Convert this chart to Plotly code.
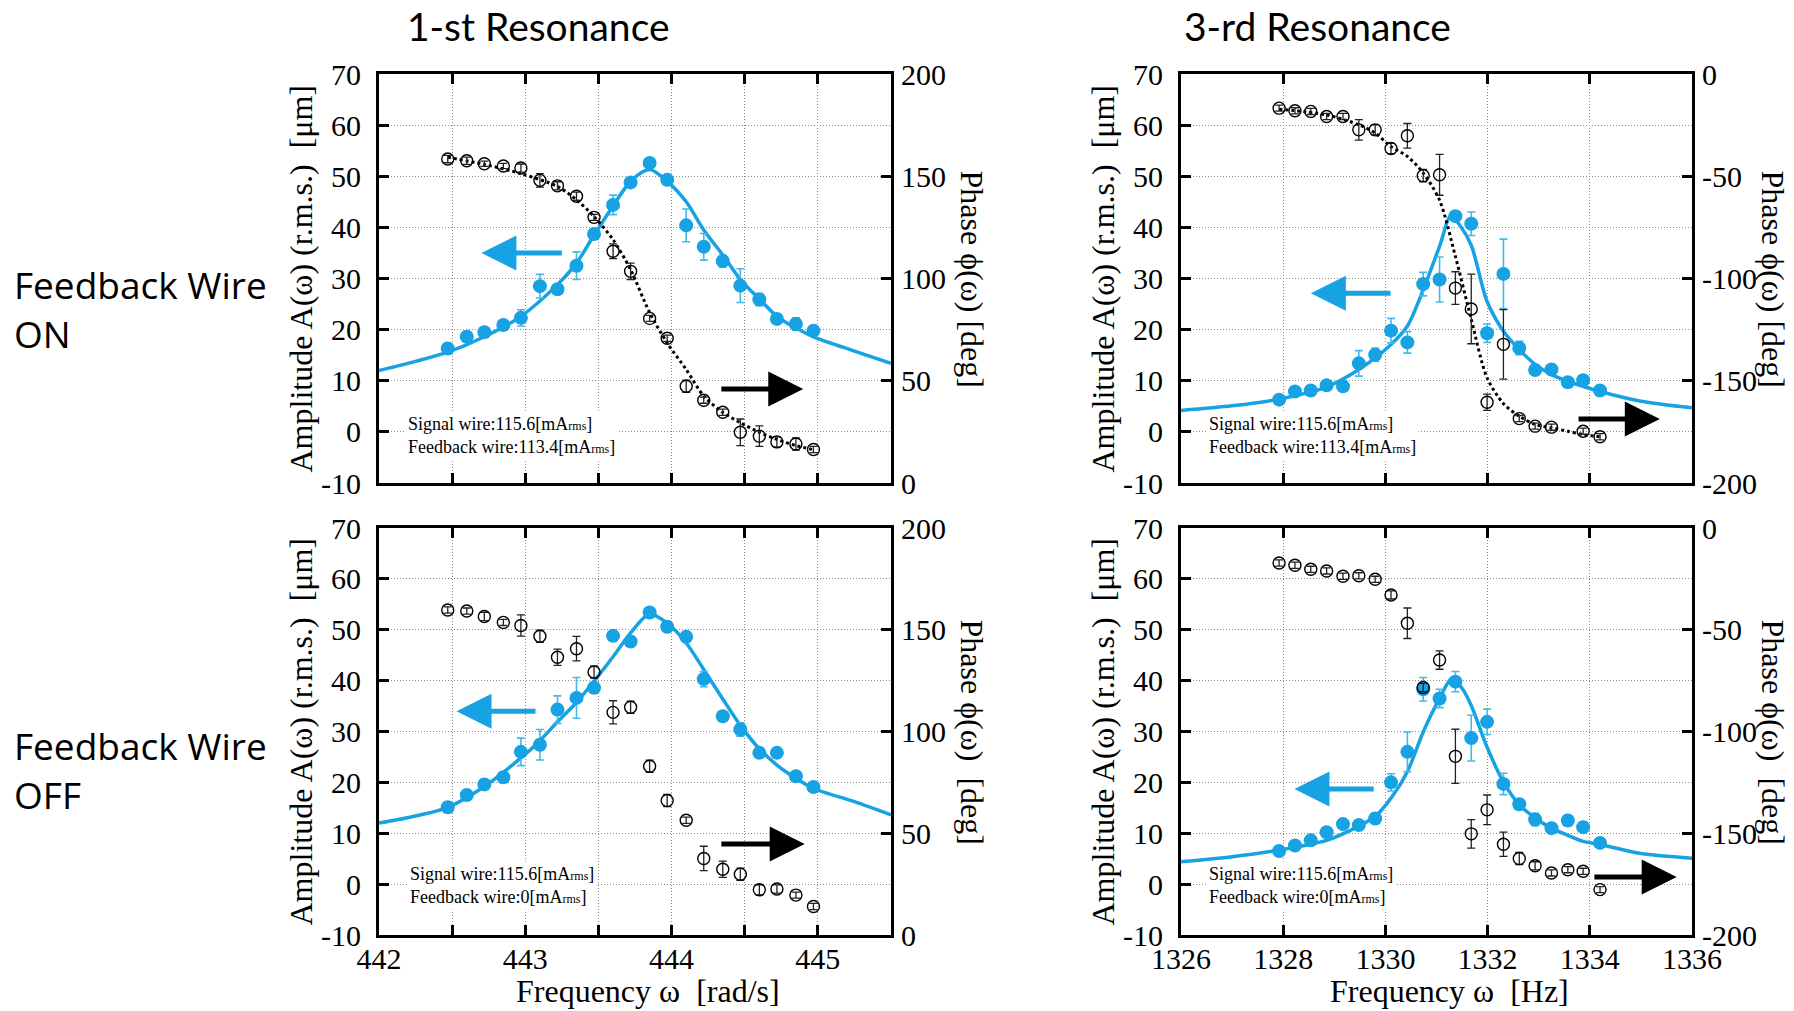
import plotly.graph_objects as go

# ---------------- measured data ----------------
# 1st resonance: excitation frequency [rad/s]
FREQ_1ST = [442.47, 442.60, 442.72, 442.85, 442.97, 443.10, 443.22, 443.35, 443.47, 443.60,
            443.72, 443.85, 443.97, 444.10, 444.22, 444.35, 444.47, 444.60, 444.72, 444.85, 444.97]
# 3rd resonance: excitation frequency [Hz]
FREQ_3RD = [1327.92, 1328.23, 1328.54, 1328.85, 1329.17, 1329.48, 1329.80, 1330.11, 1330.43, 1330.74,
            1331.06, 1331.37, 1331.68, 1331.99, 1332.31, 1332.62, 1332.93, 1333.25, 1333.57, 1333.87, 1334.20]
FREQ_3RD_PHASE_ON = [1327.92, 1328.23, 1328.54, 1328.85, 1329.17, 1329.48, 1329.80, 1330.11, 1330.43, 1330.74,
                     1331.06, 1331.37, 1331.68, 1331.99, 1332.31, 1332.62, 1332.93, 1333.25, 1333.87, 1334.20]

# amplitude [um] and its error
AMP_ON_1ST = [16.3, 18.6, 19.5, 20.9, 22.3, 28.5, 27.9, 32.5, 38.7, 44.4,
              48.8, 52.6, 49.3, 40.4, 36.2, 33.4, 28.6, 25.9, 22.1, 21.1, 19.8]
AMP_ON_1ST_ERR = [1.0, 1.0, 0.8, 0.8, 1.6, 2.3, 0.8, 2.7, 1.0, 1.9,
                  0.8, 0.8, 1.0, 3.2, 2.6, 1.2, 3.3, 1.2, 1.0, 1.2, 0.6]
AMP_OFF_1ST = [15.1, 17.5, 19.6, 21.0, 26.0, 27.4, 34.3, 36.6, 38.6, 48.8,
               47.7, 53.4, 50.6, 48.6, 40.3, 33.0, 30.4, 25.8, 25.8, 21.2, 19.1]
AMP_OFF_1ST_ERR = [1.0, 1.0, 1.0, 1.0, 2.7, 3.0, 2.7, 4.0, 1.0, 1.0,
                   0.8, 0.8, 1.0, 0.8, 1.5, 0.8, 1.3, 0.8, 0.8, 0.8, 0.8]
AMP_ON_3RD = [6.3, 7.9, 8.1, 9.1, 8.9, 13.4, 15.1, 19.8, 17.5, 28.9,
              29.8, 42.2, 40.7, 19.3, 30.9, 16.4, 12.1, 12.2, 9.7, 10.1, 8.1]
AMP_ON_3RD_ERR = [0.6, 0.8, 0.8, 0.8, 0.8, 2.5, 1.3, 2.4, 2.1, 2.3,
                  4.4, 0.8, 2.3, 1.8, 6.8, 1.3, 0.8, 0.8, 0.8, 0.8, 0.8]
AMP_OFF_3RD = [6.5, 7.6, 8.6, 10.2, 11.8, 11.6, 12.9, 20.0, 26.0, 38.3,
               36.5, 39.8, 28.7, 31.9, 19.7, 15.7, 12.7, 11.0, 12.5, 11.2, 8.1]
AMP_OFF_3RD_ERR = [0.6, 0.6, 0.8, 0.8, 0.8, 0.8, 1.0, 1.7, 3.9, 2.3,
                   1.8, 2.0, 4.5, 2.5, 2.1, 1.0, 1.2, 0.8, 1.0, 0.8, 0.6]

# phase [deg] and its error
PHASE_ON_1ST = [158.4, 157.6, 156.1, 155.0, 154.0, 148.0, 145.3, 140.2, 129.9, 113.3,
                103.5, 80.5, 70.8, 47.3, 40.5, 34.6, 24.8, 22.9, 20.1, 19.1, 16.4]
PHASE_ON_1ST_ERR = [1.8, 1.8, 1.3, 1.3, 2.0, 3.3, 2.0, 2.0, 1.5, 3.6,
                    4.0, 1.5, 1.5, 3.0, 1.5, 1.5, 6.5, 5.0, 2.5, 3.0, 1.5]
PHASE_OFF_1ST = [159.7, 159.2, 156.5, 153.6, 152.1, 146.8, 136.5, 140.7, 129.2, 109.4,
                 111.9, 82.9, 66.1, 56.4, 37.6, 32.3, 29.9, 22.2, 22.6, 19.6, 14.0]
PHASE_OFF_1ST_ERR = [1.5, 1.5, 2.0, 1.5, 5.2, 3.0, 4.0, 6.0, 3.0, 5.7,
                     3.0, 3.0, 3.0, 1.5, 6.0, 4.0, 3.0, 2.5, 2.0, 1.5, 1.5]
PHASE_ON_3RD = [-16.7, -18.0, -18.3, -20.8, -20.8, -27.3, -27.3, -36.4, -30.2, -49.7,
                -49.3, -104.7, -114.9, -160.5, -132.2, -168.5, -172.2, -172.7, -174.7, -177.4]
PHASE_ON_3RD_ERR = [1.5, 1.5, 1.5, 1.5, 1.5, 5.0, 2.5, 2.5, 6.0, 3.0,
                    10.0, 8.0, 17.0, 4.0, 17.0, 1.5, 1.5, 1.5, 1.5, 1.5]
PHASE_OFF_3RD = [-17.2, -18.3, -20.3, -21.1, -23.7, -23.5, -25.2, -32.9, -46.8, -78.4,
                 -64.9, -112.2, -150.3, -138.5, -155.4, -162.4, -166.0, -169.5, -167.9, -168.7, -177.7]
PHASE_OFF_3RD_ERR = [1.5, 1.5, 1.5, 1.5, 1.5, 1.5, 1.5, 2.0, 7.5, 2.0,
                     4.5, 13.3, 7.0, 7.3, 6.0, 3.0, 2.0, 1.5, 1.5, 1.5, 1.5]

# ---------------- fitted curves ----------------
FIT_AMP_ON_1ST_F = [442.0, 442.25, 442.47, 442.72, 442.97, 443.22, 443.35, 443.47, 443.60, 443.72,
                    443.85, 443.97, 444.10, 444.22, 444.35, 444.47, 444.60, 444.72, 444.85, 444.97, 445.25, 445.5]
FIT_AMP_ON_1ST = [12.0, 13.8, 15.6, 18.6, 22.6, 28.8, 33.0, 38.5, 44.2, 49.0,
                  51.3, 49.0, 45.0, 39.5, 34.6, 29.8, 26.0, 22.6, 20.3, 18.6, 15.8, 13.4]
FIT_PHASE_ON_1ST_F = [442.47, 442.72, 442.97, 443.22, 443.35, 443.47, 443.60, 443.72, 443.85,
                      443.97, 444.10, 444.22, 444.35, 444.47, 444.60, 444.72, 444.85, 444.97]
FIT_PHASE_ON_1ST = [159.3, 155.8, 151.3, 145.0, 138.5, 130.3, 119.0, 104.3, 83.3,
                    68.5, 55.5, 42.5, 34.5, 29.5, 24.8, 21.3, 18.3, 16.3]
FIT_AMP_OFF_1ST_F = [442.0, 442.25, 442.47, 442.72, 442.97, 443.10, 443.22, 443.35, 443.47, 443.60, 443.72,
                     443.85, 443.97, 444.10, 444.22, 444.35, 444.47, 444.60, 444.72, 444.85, 444.97, 445.25, 445.5]
FIT_AMP_OFF_1ST = [12.0, 13.4, 15.1, 19.2, 24.8, 28.2, 31.9, 35.7, 39.9, 44.7, 49.4,
                   53.1, 51.3, 47.4, 42.2, 36.4, 31.2, 26.6, 23.4, 20.8, 18.8, 16.2, 13.6]
FIT_AMP_ON_3RD_F = [1326.0, 1327.0, 1327.92, 1328.85, 1329.48, 1330.11, 1330.43, 1330.74, 1331.06, 1331.28,
                    1331.45, 1331.68, 1331.99, 1332.31, 1332.62, 1332.93, 1333.25, 1333.57, 1333.87, 1334.20,
                    1335.0, 1336.0]
FIT_AMP_ON_3RD = [4.2, 5.1, 6.4, 8.8, 12.2, 17.1, 20.7, 27.8, 36.3, 42.3,
                  40.5, 36.5, 25.5, 19.7, 16.1, 13.2, 11.2, 9.9, 8.9, 7.9,
                  6.0, 4.7]
FIT_PHASE_ON_3RD_F = [1327.92, 1328.85, 1329.48, 1329.80, 1330.11, 1330.43, 1330.74, 1331.06, 1331.37,
                      1331.68, 1331.99, 1332.31, 1332.62, 1332.93, 1333.25, 1333.57, 1333.87, 1334.20]
FIT_PHASE_ON_3RD = [-17.2, -20.0, -24.8, -28.9, -35.5, -40.3, -48.4, -61.7, -89.2,
                    -120.0, -148.6, -161.2, -167.3, -171.4, -173.0, -174.7, -176.3, -177.4]
FIT_AMP_OFF_3RD_F = [1326.0, 1327.0, 1327.92, 1328.85, 1329.48, 1329.80, 1330.11, 1330.43, 1330.74, 1331.06,
                     1331.30, 1331.50, 1331.68, 1331.99, 1332.31, 1332.62, 1332.93, 1333.25, 1333.57, 1333.87,
                     1334.20, 1335.0, 1336.0]
FIT_AMP_OFF_3RD = [4.4, 5.4, 6.7, 8.6, 11.4, 13.3, 16.9, 22.1, 29.9, 36.5,
                   40.4, 38.5, 35.1, 26.9, 20.1, 15.6, 13.0, 11.0, 9.6, 8.4,
                   7.8, 6.0, 5.1]

# ---------------- text ----------------
COL_TITLES = ["1-st Resonance", "3-rd Resonance"]
ROW_TITLES = [("Feedback Wire", "ON"), ("Feedback Wire", "OFF")]
AMP_TITLE = "Amplitude A(ω) (r.m.s.)\u00a0\u00a0[μm]"
PHASE_TITLES = ["Phase ϕ(ω) [deg]", "Phase ϕ(ω)\u00a0\u00a0[deg]"]
X_TITLES = ["Frequency ω\u00a0\u00a0[rad/s]", "Frequency ω\u00a0\u00a0[Hz]"]
RMS = '<span style="font-size:12px">rms</span>'
NOTE_ON = f"Signal wire:115.6[mA{RMS}]<br>Feedback wire:113.4[mA{RMS}]"
NOTE_OFF = f"Signal wire:115.6[mA{RMS}]<br>Feedback wire:0[mA{RMS}]"

TICKS_1ST = [442, 442.5, 443, 443.5, 444, 444.5, 445]
TICKTEXT_1ST = ["442", "", "443", "", "444", "", "445"]
TICKS_3RD = [1326, 1328, 1330, 1332, 1334, 1336]
TICKTEXT_3RD = ["1326", "1328", "1330", "1332", "1334", "1336"]
AMP_TICKS = [-10, 0, 10, 20, 30, 40, 50, 60, 70]
AMP_TICKTEXT = ["-10", "0", "10", "20", "30", "40", "50", "60", "70"]
PHASE_TICKS_1ST = [0, 50, 100, 150, 200]
PHASE_TICKTEXT_1ST = ["0", "50", "100", "150", "200"]
PHASE_TICKS_3RD = [-200, -150, -100, -50, 0]
PHASE_TICKTEXT_3RD = ["-200", "-150", "-100", "-50", "0"]

BLUE = "#16A2E3"
BLUE_ERR = "#45B8EC"
SERIF = "Liberation Serif, Times New Roman, serif"
W, H = 1794, 1011

fig = go.Figure()

# pixel frames of the four panels: (left, right, top, bottom)
FRAMES = {
    "tl": (379, 891, 74, 483),
    "tr": (1181, 1692, 74, 483),
    "bl": (379, 891, 528, 935),
    "br": (1181, 1692, 528, 935),
}

panels = [
    dict(key="tl", x="x", y="y", y2="y2", col=0, row=0, f=FREQ_1ST, a=AMP_ON_1ST, ae=AMP_ON_1ST_ERR,
         pf=FREQ_1ST, p=PHASE_ON_1ST, pe=PHASE_ON_1ST_ERR, fa=(FIT_AMP_ON_1ST_F, FIT_AMP_ON_1ST),
         fp=(FIT_PHASE_ON_1ST_F, FIT_PHASE_ON_1ST), note=NOTE_ON, note_xy=(442.18, -0.7),
         arrows=[(442.70, 35.0, 443.26, 35.0, BLUE), (444.90, 8.4, 444.33, 8.4, "black")]),
    dict(key="tr", x="x2", y="y3", y2="y4", col=1, row=0, f=FREQ_3RD, a=AMP_ON_3RD, ae=AMP_ON_3RD_ERR,
         pf=FREQ_3RD_PHASE_ON, p=PHASE_ON_3RD, pe=PHASE_ON_3RD_ERR, fa=(FIT_AMP_ON_3RD_F, FIT_AMP_ON_3RD),
         fp=(FIT_PHASE_ON_3RD_F, FIT_PHASE_ON_3RD), note=NOTE_ON, note_xy=(1326.49, -0.7),
         arrows=[(1328.54, 27.1, 1330.13, 27.1, BLUE), (1335.37, 2.5, 1333.75, 2.5, "black")]),
    dict(key="bl", x="x3", y="y5", y2="y6", col=0, row=1, f=FREQ_1ST, a=AMP_OFF_1ST, ae=AMP_OFF_1ST_ERR,
         pf=FREQ_1ST, p=PHASE_OFF_1ST, pe=PHASE_OFF_1ST_ERR, fa=(FIT_AMP_OFF_1ST_F, FIT_AMP_OFF_1ST),
         fp=None, note=NOTE_OFF, note_xy=(442.19, -0.3),
         arrows=[(442.53, 34.0, 443.08, 34.0, BLUE), (444.91, 7.9, 444.33, 7.9, "black")]),
    dict(key="br", x="x4", y="y7", y2="y8", col=1, row=1, f=FREQ_3RD, a=AMP_OFF_3RD, ae=AMP_OFF_3RD_ERR,
         pf=FREQ_3RD, p=PHASE_OFF_3RD, pe=PHASE_OFF_3RD_ERR, fa=(FIT_AMP_OFF_3RD_F, FIT_AMP_OFF_3RD),
         fp=None, note=NOTE_OFF, note_xy=(1326.49, -0.3),
         arrows=[(1328.22, 18.7, 1329.80, 18.7, BLUE), (1335.70, 1.4, 1334.06, 1.4, "black")]),
]


def axname(ref):
    return ref[0] + "axis" + ref[1:]


tickfont = dict(family=SERIF, size=30, color="black")
annotations = []
layout_axes = {}

for p in panels:
    l, r, t, b = FRAMES[p["key"]]
    xdom = [l / W, r / W]
    ydom = [1 - b / H, 1 - t / H]
    first = p["col"] == 0

    # amplitude fit and data (left axis)
    fig.add_trace(go.Scatter(x=p["fa"][0], y=p["fa"][1], mode="lines",
                             line=dict(color=BLUE, width=3.5, shape="spline", smoothing=0.8),
                             xaxis=p["x"], yaxis=p["y"], hoverinfo="skip", showlegend=False))
    fig.add_trace(go.Scatter(x=p["f"], y=p["a"], mode="markers",
                             marker=dict(color=BLUE, size=14, line=dict(width=0)),
                             error_y=dict(type="data", array=p["ae"], color=BLUE_ERR, thickness=1.6, width=4),
                             xaxis=p["x"], yaxis=p["y"], showlegend=False))
    # phase fit and data (right axis)
    if p["fp"] is not None:
        fig.add_trace(go.Scatter(x=p["fp"][0], y=p["fp"][1], mode="lines",
                                 line=dict(color="black", width=3, dash="dot", shape="spline", smoothing=0.8),
                                 xaxis=p["x"], yaxis=p["y2"], hoverinfo="skip", showlegend=False))
    fig.add_trace(go.Scatter(x=p["pf"], y=p["p"], mode="markers",
                             marker=dict(symbol="circle-open", color="black", size=12, line=dict(width=1.4, color="black")),
                             error_y=dict(type="data", array=p["pe"], color="#222222", thickness=1.3, width=4),
                             xaxis=p["x"], yaxis=p["y2"], showlegend=False))

    xa = dict(domain=xdom, anchor=p["y"], automargin=False,
              range=[442, 445.5] if first else [1326, 1336],
              tickmode="array", tickvals=TICKS_1ST if first else TICKS_3RD,
              ticktext=TICKTEXT_1ST if first else TICKTEXT_3RD,
              ticks="inside", ticklen=10, tickwidth=3, tickcolor="black",
              showline=True, linewidth=3, linecolor="black", mirror="ticks",
              showgrid=True, gridcolor="#8c8c8c", gridwidth=1, griddash="1px,2px",
              zeroline=False, tickfont=tickfont, showticklabels=p["row"] == 1,
              ticklabelstandoff=-5)
    ya = dict(domain=ydom, anchor=p["x"], automargin=False, range=[-10, 70],
              tickmode="array", tickvals=AMP_TICKS, ticktext=AMP_TICKTEXT,
              ticks="inside", ticklen=10, tickwidth=3, tickcolor="black",
              showline=True, linewidth=3, linecolor="black", mirror=True,
              showgrid=True, gridcolor="#8c8c8c", gridwidth=1, griddash="1px,2px",
              zeroline=False, tickfont=tickfont, ticklabelstandoff=9)
    yb = dict(overlaying=p["y"], anchor=p["x"], side="right", automargin=False,
              range=[0, 200] if first else [-200, 0], tickmode="array",
              tickvals=PHASE_TICKS_1ST if first else PHASE_TICKS_3RD,
              ticktext=PHASE_TICKTEXT_1ST if first else PHASE_TICKTEXT_3RD,
              ticks="inside", ticklen=10, tickwidth=3, tickcolor="black",
              showline=False, showgrid=False, zeroline=False, tickfont=tickfont, ticklabelstandoff=9)
    layout_axes[axname(p["x"])] = xa
    layout_axes[axname(p["y"])] = ya
    layout_axes[axname(p["y2"])] = yb

    # current setting note
    annotations.append(dict(xref=p["x"], yref=p["y"], x=p["note_xy"][0], y=p["note_xy"][1],
                            xanchor="left", yanchor="middle", align="left", showarrow=False,
                            text=p["note"], bgcolor="white", borderpad=2,
                            font=dict(family=SERIF, size=18, color="black")))
    # axis direction arrows
    for (x1, y1, x0, y0, c) in p["arrows"]:
        annotations.append(dict(xref=p["x"], yref=p["y"], axref=p["x"], ayref=p["y"],
                                x=x1, y=y1, ax=x0, ay=y0, text="", showarrow=True,
                                arrowhead=2, arrowsize=1.4, arrowwidth=5, arrowcolor=c, standoff=0))

    # axis titles
    cy = 1 - (t + b) / 2 / H
    annotations.append(dict(xref="paper", yref="paper", x=(l - 79) / W, y=cy, text=AMP_TITLE, textangle=-90,
                            showarrow=False, xanchor="center", yanchor="middle",
                            font=dict(family=SERIF, size=32, color="black")))
    annotations.append(dict(xref="paper", yref="paper", x=(r + 81) / W, y=cy, text=PHASE_TITLES[p["row"]], textangle=90,
                            showarrow=False, xanchor="center", yanchor="middle",
                            font=dict(family=SERIF, size=32, color="black")))
    if p["row"] == 1:
        annotations.append(dict(xref="paper", yref="paper", x=((l + r) / 2 + 13) / W, y=1 - 991 / H,
                                text=X_TITLES[p["col"]], showarrow=False, xanchor="center", yanchor="middle",
                                font=dict(family=SERIF, size=32, color="black")))

# column and row headings
for cx, txt in zip([538, 1317], COL_TITLES):
    annotations.append(dict(xref="paper", yref="paper", x=cx / W, y=1 - 26 / H, text=txt, showarrow=False,
                            xanchor="center", yanchor="middle",
                            font=dict(family="Lato, Open Sans, sans-serif", size=39, color="black")))
for (l1, l2), (y1, y2) in zip(ROW_TITLES, [(284, 334), (745, 794)]):
    for txt, yy in ((l1, y1), (l2, y2)):
        annotations.append(dict(xref="paper", yref="paper", x=12 / W, y=1 - yy / H, text=txt, showarrow=False,
                                xanchor="left", yanchor="middle",
                                font=dict(family="Open Sans, Noto Sans, sans-serif", size=37, color="black")))

fig.update_layout(width=W, height=H, margin=dict(l=0, r=0, t=0, b=0, autoexpand=False),
                  font=dict(family=SERIF, color="black"),
                  paper_bgcolor="white", plot_bgcolor="white", showlegend=False,
                  annotations=annotations, **layout_axes)

fig.write_html("out.html")
